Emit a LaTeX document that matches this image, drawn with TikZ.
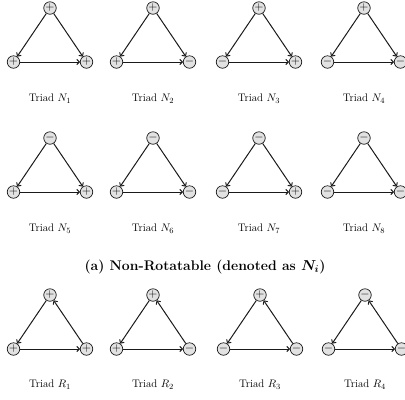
\documentclass[tikz,border=0pt]{standalone}
\usepackage{amsmath,amssymb}
\usepackage{bm}
\usepackage{tikz}
\usetikzlibrary{arrows.meta}
\definecolor{ink}{HTML}{1A1A1A}
\definecolor{signgray}{HTML}{E2E2E2}
\tikzset{
  sign/.style={circle,draw=ink,fill=signgray,line width=0.7pt,
               minimum size=12.5bp,inner sep=0pt,text height=1.5ex,
               text depth=0.2ex,font=\fontsize{13}{13}\selectfont},
  edgearr/.style={-{To[length=3.5pt,width=6pt]},line width=1pt,draw=ink},
  triadlabel/.style={font=\fontsize{11}{12}\selectfont},
  captext/.style={font=\fontsize{14}{16}\selectfont\bfseries}
}

\begin{document}
\begin{tikzpicture}[x=1bp,y=-1bp]
    \path[use as bounding box] (0,0) rectangle (405,400);

    % non-rotatable triads: apex feeds both, left feeds right
    \foreach \x/\y/\a/\l/\r/\k in {50/8/+/+/+/1, 153/8/+/+/-/2,
        259/8/+/-/+/3, 364/8/+/-/-/4, 50/138/-/+/+/5, 153/138/-/+/-/6,
        259/138/-/-/+/7, 364/138/-/-/-/8}
    {
      \node[sign] (na\k) at (\x,\y) {$\a$};
      \node[sign] (nl\k) at (\x-36.5,\y+54) {$\l$};
      \node[sign] (nr\k) at (\x+36.5,\y+54) {$\r$};
      \draw[edgearr] (na\k) -- (nl\k);
      \draw[edgearr] (na\k) -- (nr\k);
      \draw[edgearr] (nl\k) -- (nr\k);
      \node[triadlabel] (nlab\k) at (\x,\y+91) {Triad $N_{\k}$};
    }

    \node[captext] (capa) at (205,267)
      {(a) Non-Rotatable (denoted as $\bm{N_i}$)};

    % rotatable triads: a directed cycle
    \foreach \x/\a/\l/\r/\k in {50/+/+/+/1, 153/+/+/-/2,
        260/+/-/-/3, 365/-/-/-/4}
    {
      \node[sign] (ra\k) at (\x,295) {$\a$};
      \node[sign] (rl\k) at (\x-36.5,349) {$\l$};
      \node[sign] (rr\k) at (\x+36.5,349) {$\r$};
      \draw[edgearr] (ra\k) -- (rl\k);
      \draw[edgearr] (rl\k) -- (rr\k);
      \draw[edgearr] (rr\k) -- (ra\k);
      \node[triadlabel] (rlab\k) at (\x,385) {Triad $R_{\k}$};
    }
  \end{tikzpicture}
\end{document}
